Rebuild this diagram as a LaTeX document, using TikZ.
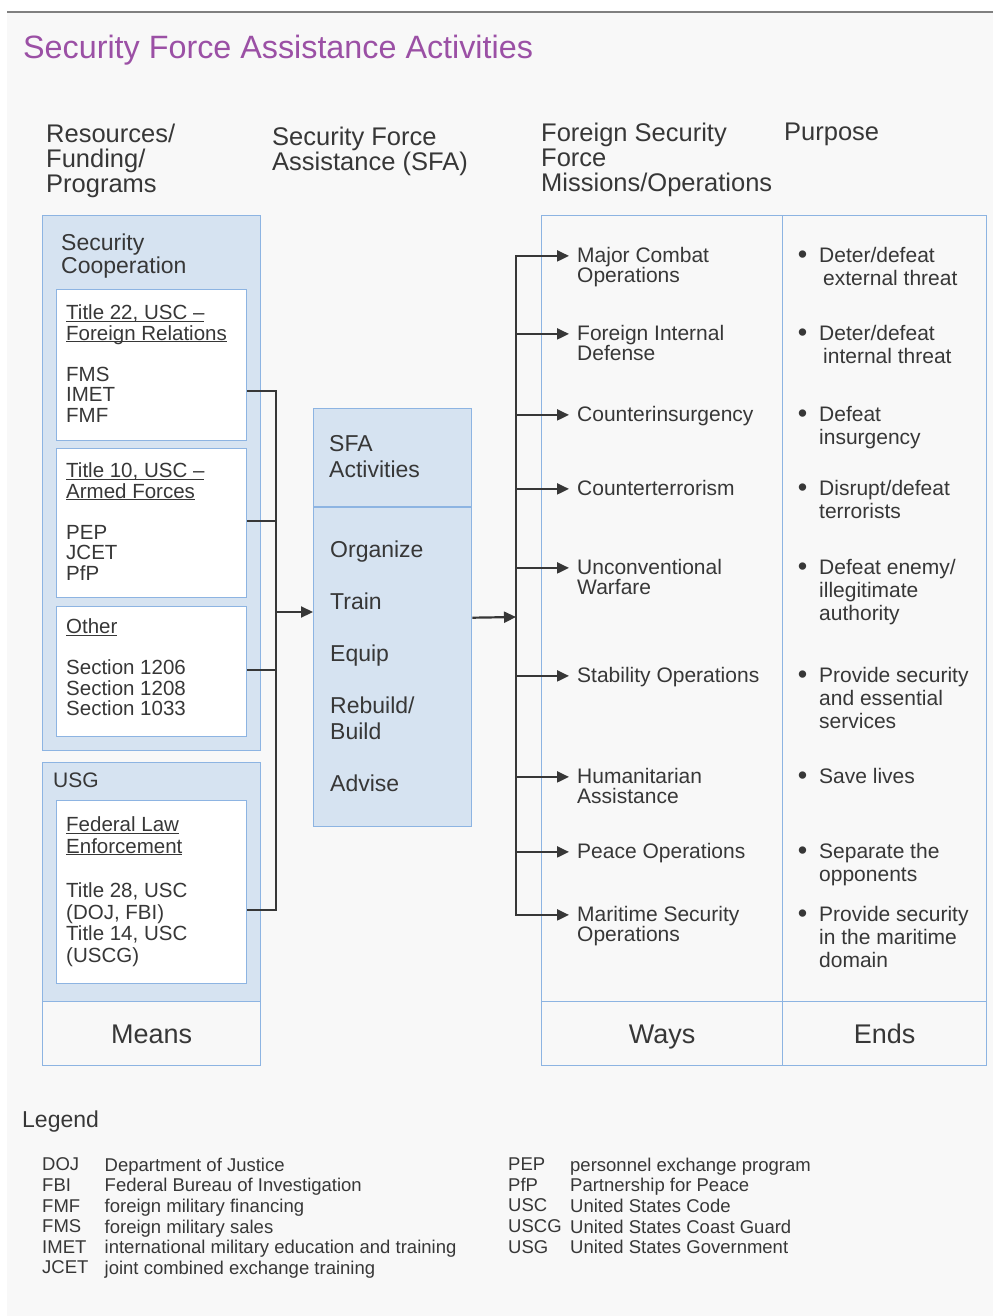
\documentclass[tikz,border=0pt]{standalone}
\usepackage{fontspec}
\setmainfont{Liberation Sans}
\usetikzlibrary{arrows.meta,positioning}
\definecolor{sfapurple}{RGB}{155,80,165}
\definecolor{boxblue}{RGB}{214,227,241}
\definecolor{edgeblue}{RGB}{141,180,226}
\definecolor{inkgray}{RGB}{55,55,55}
\definecolor{pagegray}{RGB}{248,248,248}
\newcommand{\fsz}[2]{\fontsize{#1}{#2}\selectfont}
\newcommand{\ulab}[1]{\underline{\smash{#1}}\vphantom{T}}
\newcommand{\bul}{\llap{\raisebox{-1.5pt}{\fsz{27}{27}\textbullet}\hspace{12pt}}}

\begin{document}
\begin{tikzpicture}[x=1pt,y=-1pt,>={Triangle[length=12pt,width=11pt]},
  bluebox/.style={draw=edgeblue,fill=boxblue,line width=1.4pt,anchor=north west,inner sep=0pt},
  whitebox/.style={bluebox,fill=white},
  openbox/.style={bluebox,fill=none},
  txt/.style={text=inkgray,anchor=north west,inner sep=0pt,align=left},
  way/.style={txt,font=\fsz{21}{20.5}},
  goal/.style={txt,font=\fsz{21}{23}},
  foot/.style={openbox,minimum height=64pt,font=\fsz{27}{30},text=inkgray,text height=22pt,text depth=2pt},
  link/.style={draw=inkgray,line width=2.2pt}]
  \useasboundingbox (0,0) rectangle (993,1316);
  \fill[white] (0,0) rectangle (993,1316);
  \fill[pagegray] (7,12) rectangle (993,1316);
  \draw[gray,line width=2pt] (7,12) -- (993,12);

  % Title
  \node[text=sfapurple,font=\fsz{32.3}{36},anchor=base west,inner sep=0pt] (title) at (23,59) {Security Force Assistance Activities};

  % Column headers
  \node[txt,font=\fsz{25.5}{25.3}] (hres) at (46,123.6) {Resources/\\Funding/\\Programs};
  \node[txt,font=\fsz{25.5}{25.3}] (hsfa) at (272,126.6) {Security Force\\Assistance (SFA)};
  \node[txt,font=\fsz{25.5}{25.3}] (hfsf) at (541,122.6) {Foreign Security\\Force\\Missions/Operations};
  \node[txt,font=\fsz{25.5}{25.3}] (hpur) at (784,122.6) {Purpose};

  % Means: security cooperation
  \node[bluebox,minimum width=218pt,minimum height=535pt] (sc) at (42,215) {};
  \node[txt,font=\fsz{23}{23.5}] (sctxt) at (61,233.4) {Security\\Cooperation};
  \node[whitebox,minimum width=190pt,minimum height=151pt] (t22) at (56,289) {};
  \node[txt,font=\fsz{20.5}{20.5}] (t22txt) at (66,305.2) {\ulab{Title 22, USC –}\\\ulab{Foreign Relations}\\[20.5pt]FMS\\IMET\\FMF};
  \node[whitebox,minimum width=190pt,minimum height=149pt] (t10) at (56,448) {};
  \node[txt,font=\fsz{20.5}{20.5}] (t10txt) at (66,463.2) {\ulab{Title 10, USC –}\\\ulab{Armed Forces}\\[20.5pt]PEP\\JCET\\PfP};
  \node[whitebox,minimum width=190pt,minimum height=130pt] (oth) at (56,606) {};
  \node[txt,font=\fsz{20.5}{20.5}] (othtxt) at (66,619.2) {\ulab{Other}\\[20.5pt]Section 1206\\Section 1208\\Section 1033};

  % Means: USG
  \node[bluebox,minimum width=218pt,minimum height=239pt] (usg) at (42,762) {};
  \node[txt,font=\fsz{21}{22}] (usgtxt) at (53,772.9) {USG};
  \node[whitebox,minimum width=190pt,minimum height=183pt] (fle) at (56,800) {};
  \node[txt,font=\fsz{20.5}{21.5}] (fletxt) at (66,817.2) {\ulab{Federal Law}\\\ulab{Enforcement}\\[23pt]Title 28, USC\\(DOJ, FBI)\\Title 14, USC\\(USCG)};
  \node[foot,minimum width=218pt] (means) at (42,1001) {Means};

  % SFA activities
  \node[bluebox,minimum width=158pt,minimum height=418pt] (sfa) at (313,408) {};
  \draw[draw=edgeblue,line width=1.4pt] ([yshift=-99pt]sfa.north west) -- ([yshift=-99pt]sfa.north east);
  \node[txt,font=\fsz{23}{26}] (sfahd) at (329,435.4) {SFA\\Activities};
  \node[txt,font=\fsz{23}{26}] (sfalist) at (330,540.4) {Organize\\[26pt]Train\\[26pt]Equip\\[26pt]Rebuild/\\Build\\[26pt]Advise};

  % Ways and ends table
  \node[openbox,minimum width=241pt,minimum height=786pt] (wayscol) at (541,215) {};
  \node[openbox,minimum width=204pt,minimum height=786pt] (endscol) at (782,215) {};
  \node[foot,minimum width=241pt] (ways) at (541,1001) {Ways};
  \node[foot,minimum width=204pt] (ends) at (782,1001) {Ends};

  % Missions
  \node[way] (w1) at (577,246.9) {Major Combat\\Operations};
  \node[way] (w2) at (577,324.9) {Foreign Internal\\Defense};
  \node[way] (w3) at (577,405.9) {Counterinsurgency};
  \node[way] (w4) at (577,479.9) {Counterterrorism};
  \node[way] (w5) at (577,558.9) {Unconventional\\Warfare};
  \node[way] (w6) at (577,666.9) {Stability Operations};
  \node[way] (w7) at (577,767.9) {Humanitarian\\Assistance};
  \node[way] (w8) at (577,842.9) {Peace Operations};
  \node[way] (w9) at (577,905.9) {Maritime Security\\Operations};

  % Purposes
  \node[goal] (e1) at (819,246.9) {\bul Deter/defeat\\\hspace{4pt}external threat};
  \node[goal] (e2) at (819,324.9) {\bul Deter/defeat\\\hspace{4pt}internal threat};
  \node[goal] (e3) at (819,405.9) {\bul Defeat\\insurgency};
  \node[goal] (e4) at (819,479.9) {\bul Disrupt/defeat\\terrorists};
  \node[goal] (e5) at (819,558.9) {\bul Defeat enemy/\\illegitimate\\authority};
  \node[goal] (e6) at (819,666.9) {\bul Provide security\\and essential\\services};
  \node[goal] (e7) at (819,767.9) {\bul Save lives};
  \node[goal] (e8) at (819,842.9) {\bul Separate the\\opponents};
  \node[goal] (e9) at (819,905.9) {\bul Provide security\\in the maritime\\domain};

  % Means to SFA
  \coordinate (busL) at (276,612);
  \draw[link] ([yshift=-25.5pt]t22.east) -| (busL);
  \draw[link] ([yshift=2.5pt]t10.east) -| (busL);
  \draw[link] ([yshift=2pt]oth.east) -| (busL);
  \draw[link] ([yshift=-17.5pt]fle.east) -| (busL);
  \draw[link,->] (busL) -- (busL -| sfa.west);

  % SFA to missions
  \coordinate (busR) at (516,617);
  \draw[link,->] (sfa.east) -- (busR);
  \draw[link,->] (busR) |- ([xshift=-8pt,yshift=-9pt]w1.north west);
  \draw[link,->] (busR) |- ([xshift=-8pt,yshift=-9pt]w2.north west);
  \draw[link,->] (busR) |- ([xshift=-8pt,yshift=-9pt]w3.north west);
  \draw[link,->] (busR) |- ([xshift=-8pt,yshift=-9pt]w4.north west);
  \draw[link,->] (busR) |- ([xshift=-8pt,yshift=-9pt]w5.north west);
  \draw[link,->] (busR) |- ([xshift=-8pt,yshift=-9pt]w6.north west);
  \draw[link,->] (busR) |- ([xshift=-8pt,yshift=-9pt]w7.north west);
  \draw[link,->] (busR) |- ([xshift=-8pt,yshift=-9pt]w8.north west);
  \draw[link,->] (busR) |- ([xshift=-8pt,yshift=-9pt]w9.north west);

  % Legend
  \node[txt,font=\fsz{23}{25},anchor=base west] (legend) at (22,1127) {Legend};
  \node[txt,font=\fsz{18.5}{20.6}] (abbrA) at (42,1157.7) {DOJ\\FBI\\FMF\\FMS\\IMET\\JCET};
  \node[txt,font=\fsz{18.5}{20.6}] (defA) at (104.5,1157.7) {Department of Justice\\Federal Bureau of Investigation\\foreign military financing\\foreign military sales\\international military education and training\\joint combined exchange training};
  \node[txt,font=\fsz{18.5}{20.6}] (abbrB) at (508,1157.7) {PEP\\PfP\\USC\\USCG\\USG};
  \node[txt,font=\fsz{18.5}{20.6}] (defB) at (570,1157.7) {personnel exchange program\\Partnership for Peace\\United States Code\\United States Coast Guard\\United States Government};
\end{tikzpicture}
\end{document}
